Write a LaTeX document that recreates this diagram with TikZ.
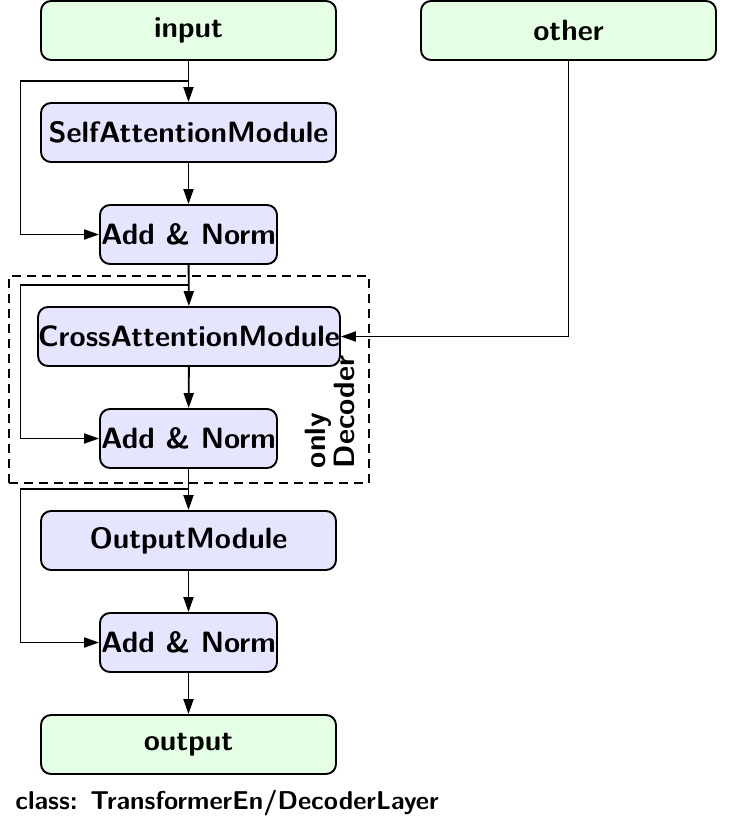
\documentclass[tikz,border=0pt]{standalone}
\usetikzlibrary{arrows.meta}
\begin{document}
\begin{tikzpicture}[x=0.5pt,y=-0.5pt,
  every node/.style={font=\fontsize{14.7}{14.7}\selectfont\sffamily\bfseries},
  box/.style={draw, line width=0.95pt, rounded corners=5pt, inner sep=0pt, minimum height=29.5pt},
  iobox/.style={box, fill=green!10, minimum width=147.5pt},
  modbox/.style={box, fill=blue!10, minimum width=147.5pt},
  addbox/.style={box, fill=blue!10, minimum width=88.5pt},
  arr/.style={line width=0.95pt, -{Triangle[length=7.5pt,width=5pt]}},
  dashbox/.style={draw, line width=0.7pt, dash pattern=on 4.5pt off 3pt, inner sep=0pt, minimum width=180pt, minimum height=103.5pt}]
\useasboundingbox (0,0) rectangle (730,832);
\node[dashbox] (dec) at (189,379.5) {};
\node[iobox] (input) at (188.5,30.5) {input};
\node[iobox] (other) at (568.5,30.5) {other};
\node[modbox] (self) at (188.5,132.5) {SelfAttentionModule};
\node[addbox] (an1) at (188.5,234.5) {Add \& Norm};
\node[modbox, minimum width=149pt] (cross) at (189,336.5) {CrossAttentionModule};
\node[addbox] (an2) at (188.5,438.5) {Add \& Norm};
\node[modbox] (outm) at (188.5,540.5) {OutputModule};
\node[addbox] (an3) at (188.5,642.5) {Add \& Norm};
\node[iobox] (output) at (188.5,744.5) {output};
\node[rotate=90, align=left] (only) at (330,412) {only\\Decoder};
\node[anchor=base west, inner sep=0pt, font=\fontsize{12.9}{14}\selectfont\sffamily\bfseries] (cls) at (15,809) {class: TransformerEn/DecoderLayer};
\coordinate (b1) at (188.5,81);
\coordinate (l1) at (20.5,81);
\coordinate (b2) at (188.5,285);
\coordinate (l2) at (20.5,285);
\coordinate (b3) at (188.5,489);
\coordinate (l3) at (20.5,489);
\draw[arr] (input) -- (self);
\draw[arr] (self) -- (an1);
\draw[arr] (b1) -- (l1) |- (an1);
\draw[arr] (an1) -- (cross);
\draw[arr] (b2) -- (l2) |- (an2);
\draw[arr] (other) |- (cross);
\draw[arr] (cross) -- (an2);
\draw[arr] (an2) -- (outm);
\draw[arr] (b3) -- (l3) |- (an3);
\draw[arr] (outm) -- (an3);
\draw[arr] (an3) -- (output);
\end{tikzpicture}
\end{document}
